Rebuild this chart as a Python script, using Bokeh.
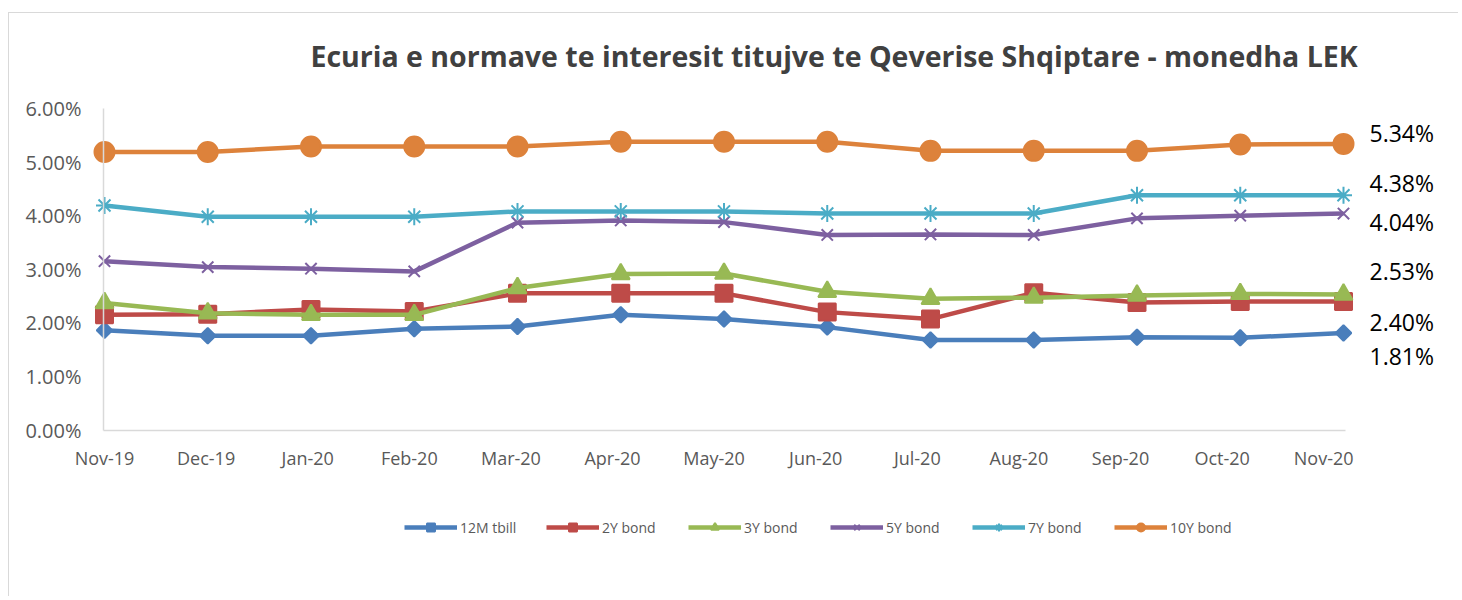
import math
from bokeh.plotting import figure
from bokeh.models import (Range1d, FixedTicker, PrintfTickFormatter, Legend, LegendItem,
                          LabelSet, Label, ColumnDataSource)
from bokeh.core.properties import value
from bokeh.embed import file_html
from bokeh.resources import INLINE

# ---- data ----
months = ["Nov-19", "Dec-19", "Jan-20", "Feb-20", "Mar-20", "Apr-20", "May-20",
          "Jun-20", "Jul-20", "Aug-20", "Sep-20", "Oct-20", "Nov-20"]
tbill_12m = [1.86, 1.76, 1.76, 1.89, 1.93, 2.15, 2.07, 1.92, 1.68, 1.68, 1.73, 1.72, 1.81]
bond_2y   = [2.15, 2.16, 2.25, 2.21, 2.55, 2.55, 2.55, 2.20, 2.07, 2.56, 2.38, 2.40, 2.40]
bond_3y   = [2.37, 2.18, 2.15, 2.15, 2.65, 2.91, 2.92, 2.58, 2.45, 2.47, 2.51, 2.54, 2.53]
bond_5y   = [3.15, 3.04, 3.01, 2.96, 3.87, 3.91, 3.88, 3.64, 3.65, 3.64, 3.95, 4.00, 4.04]
bond_7y   = [4.19, 3.98, 3.98, 3.98, 4.08, 4.08, 4.08, 4.04, 4.04, 4.04, 4.38, 4.38, 4.38]
bond_10y  = [5.19, 5.19, 5.29, 5.29, 5.29, 5.38, 5.38, 5.38, 5.21, 5.21, 5.21, 5.33, 5.34]
series_names = ["12M tbill", "2Y bond", "3Y bond", "5Y bond", "7Y bond", "10Y bond"]
y_ticks = [0, 1, 2, 3, 4, 5, 6]
title_text = "Ecuria e normave te interesit titujve te Qeverise Shqiptare - monedha LEK"

# ---- styles ----
series = [tbill_12m, bond_2y, bond_3y, bond_5y, bond_7y, bond_10y]
colors = ["#4A7EBB", "#BE4B48", "#98B954", "#7D60A0", "#4BACC6", "#DD823B"]
markers = ["square", "square", "triangle", "x", "asterisk", "circle"]
msizes = [11, 17, 18, 16, 17, 20]
mangles = [math.pi / 4, 0, 0, 0, 0, 0]
# end-label vertical offsets (pixels, positive = up)
end_label_dy = [-23, -21, 23, -8, 12, 11]
LABEL_DRIFT = -1.65     # px per month: category labels drift slightly left in the original

x = list(range(len(months)))

# canvas geometry (the plot frame fills the whole canvas so nothing is clipped)
W, H = 1450, 584
PX_X = 103.25           # pixels per month
PX_Y = 53.58            # pixels per percentage point
ORIGIN_X = 95           # canvas px of first month
ORIGIN_Y = 167.5        # canvas px (from bottom) of 0%
x0 = -ORIGIN_X / PX_X
x1 = x0 + W / PX_X
y0 = -ORIGIN_Y / PX_Y
y1 = y0 + H / PX_Y

p = figure(width=W, height=H, output_backend="svg", toolbar_location=None, title=None,
           x_range=Range1d(x0, x1), y_range=Range1d(y0, y1), min_border=0,
           min_border_left=0, min_border_right=0, min_border_top=0, min_border_bottom=0,
           styles={"margin-left": "8px", "margin-top": "12px",
                   "border-left": "1px solid #D9D9D9", "border-top": "1px solid #D9D9D9"})
p.outline_line_color = None
p.xgrid.grid_line_color = None
p.ygrid.grid_line_color = None
p.background_fill_color = "white"
p.border_fill_color = "white"

# axes (drawn at fixed data locations inside the frame)
axis_x_start = -1 / PX_X
p.xaxis.ticker = FixedTicker(ticks=[])
p.xaxis.fixed_location = 0
p.xaxis.bounds = (axis_x_start, 12 + 2 / PX_X)
p.yaxis.ticker = FixedTicker(ticks=y_ticks)
p.yaxis.formatter = PrintfTickFormatter(format="%.2f%%")
p.yaxis.fixed_location = axis_x_start
p.yaxis.bounds = (0, 6)
for ax in (p.xaxis[0], p.yaxis[0]):
    ax.axis_line_color = "#D9D9D9"
    ax.axis_line_width = 1.5
    ax.major_tick_line_color = None
    ax.minor_tick_line_color = None
    ax.major_tick_out = 0
    ax.major_tick_in = 0
    ax.major_label_text_font = "Open Sans"
    ax.major_label_text_color = "#595959"
p.yaxis.major_label_text_font_size = "20px"
p.yaxis.major_label_standoff = 22

# category labels
cat_src = ColumnDataSource(dict(x=x, y=[0] * len(x), t=months,
                                dx=[LABEL_DRIFT * i for i in x]))
p.add_layout(LabelSet(x="x", y="y", text="t", source=cat_src, x_offset="dx", y_offset=-27.5,
                      text_font=value("Open Sans"), text_font_size="18px",
                      text_color="#595959", text_baseline="middle", text_align="center"))

items = []
for name, vals, c, m, s, a in zip(series_names, series, colors, markers, msizes, mangles):
    r1 = p.line(x, vals, line_color=c, line_width=4.5)
    r2 = p.scatter(x, vals, marker=m, size=s, angle=a, fill_color=c, line_color=c,
                   line_width=2)
    items.append(LegendItem(label=name, renderers=[r1, r2]))

legend = Legend(items=items, orientation="horizontal", location=(395, 60),
                glyph_width=53, glyph_height=20, label_width=80, label_standoff=3,
                spacing=6, padding=0, margin=0, border_line_color=None,
                background_fill_alpha=0, label_text_font="Open Sans",
                label_text_font_size="14px", label_text_color="#595959")
p.add_layout(legend, "center")

# end labels
src = ColumnDataSource(dict(
    x=[x[-1]] * len(series),
    y=[vals[-1] for vals in series],
    t=["%.2f%%" % vals[-1] for vals in series],
    dy=end_label_dy,
))
labels = LabelSet(x="x", y="y", text="t", source=src, x_offset=26, y_offset="dy",
                  text_font=value("Open Sans"), text_font_size="23px", text_color="black",
                  text_baseline="middle", text_align="left")
p.add_layout(labels)

# title
title = Label(x=301, y=542, x_units="screen", y_units="screen", text=title_text,
              text_font="Open Sans", text_font_style="bold", text_font_size="28.5px",
              text_color="#404040", text_baseline="middle", text_align="left")
p.add_layout(title)

open("out.html", "w").write(file_html(p, INLINE))
